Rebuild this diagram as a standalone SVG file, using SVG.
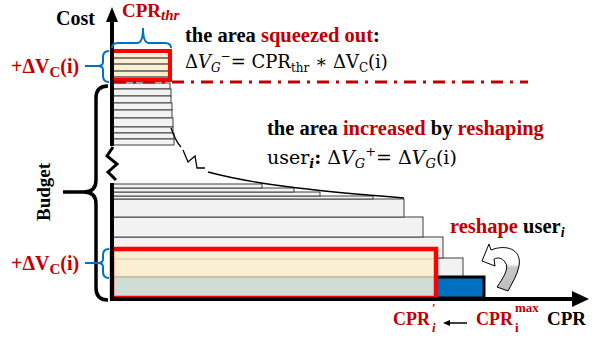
<svg xmlns="http://www.w3.org/2000/svg" width="597" height="343" viewBox="0 0 597 343">
<defs>
<style>
.bar{fill:#f2f2f2;stroke:#404040;stroke-width:1}
.ax{stroke:#000;stroke-width:4;fill:none}
.bl{stroke:#000;stroke-width:1.3;fill:none}
.bb{stroke:#0070c0;stroke-width:2;fill:none}
.lbl{font-family:"Liberation Serif",serif;font-weight:bold}
.math{font-family:"DejaVu Serif","Liberation Serif",serif}
.red{fill:#c00000}
</style>
<linearGradient id="ag" x1="0" y1="0" x2="0" y2="1">
<stop offset="0" stop-color="#fff"/>
<stop offset="0.42" stop-color="#fff"/>
<stop offset="0.5" stop-color="#c8c8c8"/>
<stop offset="1" stop-color="#bdbdbd"/>
</linearGradient>
</defs>
<rect width="597" height="343" fill="#fff"/>

<g id="upper-bars">
<rect class="bar" x="112" y="83" width="58" height="6"/>
<rect class="bar" x="112" y="89" width="59" height="7"/>
<rect class="bar" x="112" y="96" width="59" height="7"/>
<rect class="bar" x="112" y="103" width="60" height="7"/>
<rect class="bar" x="112" y="110" width="60" height="8"/>
<rect class="bar" x="112" y="118" width="61" height="9"/>
<rect class="bar" x="112" y="127" width="61" height="6"/>
<rect class="bar" x="112" y="133" width="62" height="6"/>
<rect class="bar" x="112" y="139" width="62" height="6"/>
</g>

<g id="lower-bars">
<rect class="bar" x="112" y="258" width="351" height="19"/>
<rect class="bar" x="112" y="237" width="331" height="21"/>
<rect class="bar" x="112" y="217" width="311" height="20"/>
<rect class="bar" x="112" y="199" width="292" height="18"/>
<rect class="bar" x="112" y="196" width="261" height="3"/>
<rect class="bar" x="112" y="192" width="208" height="4"/>
<rect class="bar" x="112" y="188" width="182" height="4"/>
<rect class="bar" x="112" y="184" width="150" height="4"/>
</g>

<g id="envelope">
<path class="bl" d="M171,128 Q176,142 181,147"/>
<polyline class="bl" points="183,150 188,162 195,156 197,168 205,168"/>
<path class="bl" d="M208,172 C 260,186 330,192 404,198"/>
</g>

<g id="top-box">
<rect x="112" y="51" width="58" height="29" fill="#fcefd2"/>
<g stroke="#595959" stroke-width="1.5">
<line x1="113" y1="58" x2="169" y2="58"/>
<line x1="113" y1="64" x2="169" y2="64"/>
<line x1="113" y1="71" x2="169" y2="71"/>
<line x1="113" y1="77" x2="169" y2="77"/>
</g>
<rect x="112" y="51" width="58" height="29" fill="none" stroke="#ff0000" stroke-width="4"/>
</g>

<g id="threshold">
<line x1="114" y1="82" x2="528" y2="82" stroke="#c00000" stroke-width="3" stroke-dasharray="12 7 3 7"/>
</g>

<g id="bottom-box">
<rect x="112" y="249" width="324" height="27" fill="#fbefd3"/>
<line x1="113" y1="259" x2="435" y2="259" stroke="#d8c9a8" stroke-width="1"/>
<rect x="112" y="276" width="324" height="22" fill="#d0dcd6"/>
<line x1="113" y1="277" x2="435" y2="277" stroke="#c8b898" stroke-width="1.5"/>
<rect x="436" y="277" width="48" height="21" fill="#0070c0" stroke="#000" stroke-width="3"/>
<rect x="112" y="249" width="324" height="49" fill="none" stroke="#ff0000" stroke-width="4.5"/>
</g>

<g id="axes">
<line class="ax" x1="112" y1="20" x2="112" y2="146"/>
<polygon points="106,22 112,7 118,22" fill="#000"/>
<polyline points="113,147 107,156 117,164 108,172 116,180" fill="none" stroke="#000" stroke-width="3"/>
<line class="ax" x1="112" y1="183" x2="112" y2="301"/>
<line class="ax" x1="110" y1="299" x2="574" y2="299"/>
<polygon points="572,291 589,299 572,307" fill="#000"/>
</g>

<g id="braces">
<path d="M108,86 Q96,86 96,98 L96,180 Q96,192 84,192 Q96,192 96,204 L96,288 Q96,300 108,300" fill="none" stroke="#000" stroke-width="3.5"/>
<line x1="84" y1="192" x2="63" y2="192" stroke="#000" stroke-width="3.5"/>
<path class="bb" d="M109,51 Q103,51 103,57 L103,62 Q103,66 98,66 Q103,66 103,70 L103,76 Q103,82 109,82"/>
<line class="bb" x1="98" y1="66" x2="85" y2="66"/>
<path class="bb" d="M112,48 Q112,43 118,43 L137,43 Q143,43 143,28 Q143,43 149,43 L165,43 Q171,43 171,48"/>
<path class="bb" d="M109,249 Q103,249 103,255 L103,259 Q103,263 98,263 Q103,263 103,267 L103,272 Q103,278 109,278"/>
<line class="bb" x1="98" y1="263" x2="85" y2="263"/>
</g>

<g id="reshape-arrow">
<path d="M482,261 L489,244 L491,250 C506,244 522,249 519,266 C517,276 512,283 508,291 L497,287 C503,278 510,268 505,262 C502,258 498,257 494,259 L495,266 Z" fill="url(#ag)" stroke="#000" stroke-width="1"/>
</g>

<g id="labels">
<text class="lbl" x="56" y="25" font-size="20">Cost</text>
<text class="lbl red" x="122" y="17" font-size="19">CPR<tspan font-style="italic" font-size="15" dy="3">thr</tspan></text>
<text class="lbl red" x="11" y="73" font-size="20">+ΔV<tspan font-size="15" dy="4">C</tspan><tspan dy="-4">(i)</tspan></text>
<text class="lbl red" x="11" y="270" font-size="20">+ΔV<tspan font-size="15" dy="4">C</tspan><tspan dy="-4">(i)</tspan></text>
<text class="lbl" transform="translate(50,192) rotate(-90)" text-anchor="middle" font-size="19">Budget</text>

<text class="lbl" x="185" y="42" font-size="20.5">the area <tspan class="red">squeezed out</tspan>:</text>
<text class="math" x="185" y="68" font-size="18">Δ<tspan font-style="italic">V</tspan><tspan font-style="italic" font-size="12" dy="4">G</tspan><tspan font-size="12" dy="-12">−</tspan><tspan dy="8">= CPR</tspan><tspan font-size="12" dy="4">thr</tspan><tspan dy="-4"> ∗ ΔV</tspan><tspan font-size="12" dy="4">C</tspan><tspan dy="-4">(i)</tspan></text>

<text class="lbl" x="267" y="135" font-size="20.5">the area <tspan class="red">increased</tspan> by <tspan class="red">reshaping</tspan></text>
<text class="math" x="267" y="164" font-size="19">user<tspan font-weight="bold" font-style="italic" font-size="13" dy="4">i</tspan><tspan font-weight="bold" dy="-4">:</tspan> Δ<tspan font-style="italic">V</tspan><tspan font-style="italic" font-size="13" dy="4">G</tspan><tspan font-size="13" dy="-12">+</tspan><tspan dy="8">= Δ</tspan><tspan font-style="italic">V</tspan><tspan font-style="italic" font-size="13" dy="4">G</tspan><tspan dy="-4">(i)</tspan></text>

<text class="lbl" x="450" y="233" font-size="20.5"><tspan class="red">reshape</tspan> user<tspan font-style="italic" font-size="14" dy="4">i</tspan></text>

<text class="lbl red" x="393" y="325" font-size="18">CPR</text>
<text class="lbl red" x="432" y="312" font-size="13">′</text>
<text class="lbl red" x="432" y="332" font-size="13" font-style="italic">i</text>
<g id="arrow-left">
<line x1="467" y1="323" x2="448" y2="323" stroke="#000" stroke-width="1.5"/>
<polygon points="443,323 450,320 450,326" fill="#000"/>
</g>
<text class="lbl red" x="476" y="325" font-size="18">CPR</text>
<text class="lbl red" x="515" y="312" font-size="13">max</text>
<text class="lbl red" x="515" y="332" font-size="13">i</text>
<text class="lbl" x="547" y="325" font-size="19">CPR</text>
</g>
</svg>
